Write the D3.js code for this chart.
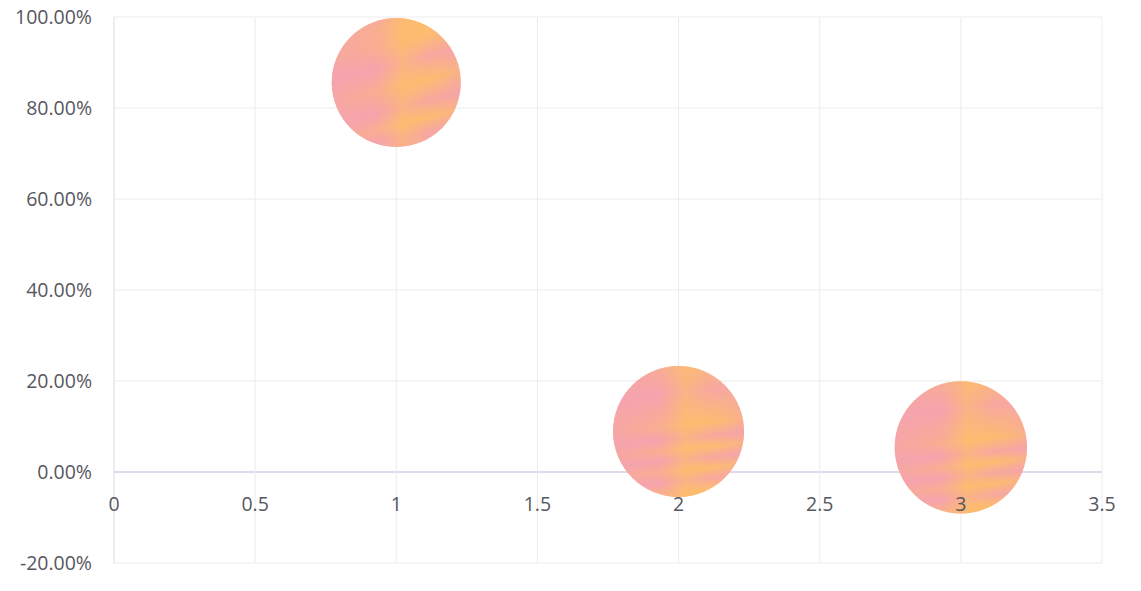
<!DOCTYPE html>
<html><head><meta charset="utf-8">
<script src="https://cdn.jsdelivr.net/npm/d3@7"></script>
<style>
html,body{margin:0;padding:0;background:#fff;}
svg text{font-family:"Open Sans","Noto Sans",sans-serif;fill:#575760;}
</style></head>
<body>
<svg id="c" width="1141" height="591"></svg>
<script>
const xValues = [1, 2, 3];
const yValues = [0.856, 0.089, 0.054];
const bubbleSizes = [0.97, 1.0, 1.02];
const xTicks = [0, 0.5, 1, 1.5, 2, 2.5, 3, 3.5];
const yTicks = [-0.2, 0, 0.2, 0.4, 0.6, 0.8, 1.0];

const W = 1141, H = 591;
const m = {top: 17, right: 39, bottom: 28, left: 114};
const svg = d3.select("#c");
const x = d3.scaleLinear().domain([0, 3.5]).range([m.left, W - m.right]);
const y = d3.scaleLinear().domain([-0.2, 1.0]).range([H - m.bottom, m.top]);
const r = d3.scaleSqrt().domain([0, 1]).range([0, 65.5]);

// gradients
const defs = svg.append("defs");
const pink = "#f5a3ad", orange = "#fdbb70";
const g1 = defs.append("linearGradient").attr("id","bandA").attr("x1","0").attr("y1","0").attr("x2","0.25").attr("y2","1");
[[0,pink],[0.15,orange],[0.3,orange],[0.45,pink],[0.62,orange],[0.78,pink],[0.9,orange],[1,pink]]
  .forEach(([o,c])=>g1.append("stop").attr("offset",o).attr("stop-color",c));
const g2 = defs.append("linearGradient").attr("id","bandB").attr("x1","0").attr("y1","0").attr("x2","0.1").attr("y2","1");
[[0,orange],[0.25,pink],[0.5,orange],[0.6,pink],[0.68,orange],[0.76,pink],[0.84,orange],[0.92,pink],[1,orange]]
  .forEach(([o,c])=>g2.append("stop").attr("offset",o).attr("stop-color",c));
const gh = defs.append("linearGradient").attr("id","horiz").attr("x1","0").attr("y1","0").attr("x2","1").attr("y2","0");
[[0,pink,0.85],[0.35,pink,0.55],[0.55,orange,0.65],[0.75,orange,0.2],[1,pink,0.45]]
  .forEach(([o,c,a])=>gh.append("stop").attr("offset",o).attr("stop-color",c).attr("stop-opacity",a));

// grid
svg.append("g").selectAll("line").data(yTicks).join("line")
  .attr("x1", x(0)).attr("x2", x(3.5)).attr("y1", d=>y(d)).attr("y2", d=>y(d))
  .attr("stroke", d=> d===0 ? "#d6cce3" : "#ececec").attr("stroke-width", d=> d===0 ? 1.3 : 1);
svg.append("g").selectAll("line").data(xTicks).join("line")
  .attr("x1", d=>x(d)).attr("x2", d=>x(d)).attr("y1", y(1.0)).attr("y2", y(-0.2))
  .attr("stroke", d=> d===0 ? "#dcdcdc" : "#ececec").attr("stroke-width", 1);

// y labels
svg.append("g").selectAll("text").data(yTicks).join("text")
  .attr("x", 92).attr("y", d=>y(d)).attr("dy","0.36em").attr("text-anchor","end")
  .attr("font-size", 19.5).text(d=>d3.format(".2%")(d).replace("\u2212","-"));

// bubbles
const data = xValues.map((v,i)=>({x:v, y:yValues[i], s:bubbleSizes[i]}));
const bg = svg.append("g");
data.forEach((d,i)=>{
  bg.append("circle").attr("cx", x(d.x)).attr("cy", y(d.y)).attr("r", r(d.s))
    .attr("fill", i===0 ? "url(#bandA)" : "url(#bandB)");
  bg.append("circle").attr("cx", x(d.x)).attr("cy", y(d.y)).attr("r", r(d.s))
    .attr("fill", "url(#horiz)");
});

// x labels (axis crosses at 0)
svg.append("g").selectAll("text").data(xTicks).join("text")
  .attr("x", d=>x(d)).attr("y", y(0) + 39).attr("text-anchor","middle")
  .attr("font-size", 19.5).text(d=>d3.format("~g")(d));
</script>
</body></html>
